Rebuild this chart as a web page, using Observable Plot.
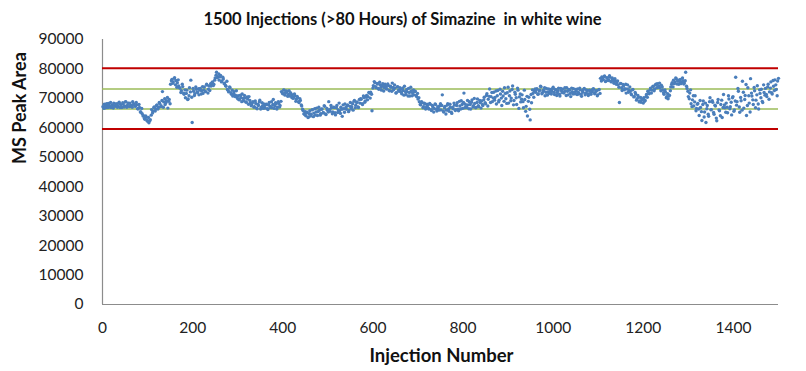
<!DOCTYPE html>
<html><head><meta charset="utf-8">
<script src="https://cdn.jsdelivr.net/npm/d3@7"></script>
<script src="https://cdn.jsdelivr.net/npm/@observablehq/plot@0.6"></script>
<style>
html,body{margin:0;padding:0;background:#fff;}
svg{font-family:Lato,"Open Sans",sans-serif;}
</style></head>
<body><div id="chart"></div>
<script>
// MS peak area (thousands), read at injections 1,4,7,... (series A) and 3,6,9,... (series B)
const peakAreaA = [
67.2,68.0,66.8,67.6,68.3,67.1,66.9,67.8,68.4,67.3,
68.1,67.5,68.7,67.9,66.9,68.2,67.4,68.8,67.6,68.3,
68.4,67.6,68.9,68.1,67.3,67.8,66.5,66.9,65.4,64.8,
64.1,62.9,63.6,62.2,61.7,62.8,66.2,65.6,67.1,66.4,
67.8,66.9,68.3,67.5,72.3,68.8,67.9,69.2,66.7,69.6,
74.8,76.4,75.6,77.0,76.1,75.3,74.2,73.5,72.6,74.0,
71.4,70.2,72.8,69.8,73.6,76.2,61.8,72.4,71.6,73.1,
72.0,71.2,73.4,72.6,71.7,73.9,72.3,74.5,73.1,72.7,
74.2,75.6,74.8,76.9,78.9,77.4,76.2,77.8,75.9,76.6,
75.2,74.1,73.0,72.2,73.6,71.4,70.8,72.3,71.1,70.4,
70.9,69.6,70.3,71.5,69.2,70.1,68.7,69.8,70.6,68.4,
67.8,68.9,67.2,68.3,66.5,67.6,69.4,66.9,67.4,68.1,
66.7,67.9,66.2,68.6,67.3,66.8,69.6,67.5,68.2,67.0,
68.3,67.6,72.3,71.6,72.8,71.9,72.2,71.3,70.8,71.7,
71.2,70.4,70.9,69.7,70.2,68.6,69.3,67.4,65.9,64.6,
64.1,65.3,63.7,65.8,64.6,66.2,65.0,64.3,66.7,65.5,
65.9,64.8,66.4,65.2,67.3,64.5,66.0,68.9,65.6,66.8,
65.4,66.9,64.4,67.6,66.1,65.7,67.0,63.9,66.5,68.1,
66.3,67.8,65.9,68.6,67.2,66.0,69.3,67.7,68.8,66.9,
68.4,69.7,67.9,70.3,69.1,71.0,70.6,71.8,72.1,65.8,
74.3,75.4,73.6,74.9,73.1,74.6,72.8,75.0,73.7,74.1,
73.3,74.4,72.6,73.8,75.2,72.9,73.5,71.9,74.0,72.4,
73.0,71.6,72.7,74.1,71.3,72.2,73.4,70.8,72.5,71.9,
71.2,72.4,70.6,69.8,68.9,67.8,68.6,67.2,68.1,66.9,
67.5,66.4,68.0,65.9,67.1,66.6,67.9,65.7,66.8,67.4,
66.1,71.2,65.4,67.3,66.0,68.2,65.6,67.0,64.9,66.5,
67.7,66.2,68.5,65.8,67.4,69.2,66.6,71.8,68.0,66.9,
67.8,68.9,66.4,69.5,67.5,68.3,66.9,69.8,67.2,68.6,
69.1,67.6,70.4,68.2,71.6,69.7,73.2,70.6,68.9,72.1,
70.3,68.1,72.7,69.4,71.5,67.6,70.8,73.6,69.9,71.9,
68.4,72.5,70.1,74.2,69.3,71.4,67.9,72.8,70.5,68.8,
71.2,66.8,69.6,67.3,64.0,70.4,62.7,68.5,71.7,72.6,
72.1,73.3,71.5,72.8,73.9,71.9,72.6,70.9,73.4,72.2,
71.7,73.0,72.4,73.8,71.3,72.9,72.0,73.5,70.8,72.7,
73.1,71.8,72.5,73.6,71.2,72.8,70.6,72.3,73.3,71.6,
72.4,73.2,71.5,72.9,70.7,72.1,73.4,71.8,72.6,71.0,
72.7,71.4,72.2,73.1,71.9,72.5,71.2,73.0,76.8,77.3,
76.4,77.6,75.9,76.9,76.2,77.2,75.6,76.5,75.1,76.0,
75.4,74.6,68.6,75.1,72.7,74.2,73.3,71.8,74.6,72.9,
72.4,71.2,73.0,70.6,71.5,69.8,70.4,69.1,68.7,69.6,
70.2,69.4,71.3,72.4,71.6,73.5,72.8,74.1,73.2,74.8,
75.0,74.2,73.6,74.5,72.9,71.4,72.2,70.6,69.9,71.1,
73.9,75.3,76.2,75.6,76.7,75.9,74.8,76.4,75.5,76.0,
75.2,78.9,73.4,70.6,71.8,68.2,69.5,67.4,70.9,66.6,
68.3,64.2,66.9,62.5,69.1,65.4,61.8,67.6,63.9,70.2,
66.2,68.7,64.6,67.4,62.4,69.6,65.8,67.9,63.5,71.3,
66.8,68.4,65.1,69.8,67.2,64.4,70.6,66.1,77.2,68.9,
72.4,65.3,69.2,75.8,66.7,71.0,64.2,73.6,68.4,76.7,
70.8,67.9,72.6,69.4,74.3,66.4,71.7,73.1,68.6,72.0,
73.4,70.6,74.8,72.2,75.6,71.5,74.1,76.3,73.0,75.9
];
const peakAreaB = [
66.6,67.4,68.2,66.9,67.7,68.6,67.4,66.7,67.5,68.1,
67.0,68.4,66.9,67.3,68.5,67.1,68.9,67.0,68.4,67.2,
67.5,67.0,68.0,67.4,68.6,66.5,67.9,65.4,66.6,64.0,
63.2,64.0,62.5,63.5,62.4,64.3,65.0,66.9,65.7,67.6,
66.4,68.6,67.2,69.3,67.0,69.9,68.6,70.3,69.0,68.2,
76.0,75.1,76.8,74.6,73.8,76.3,73.6,72.0,74.8,71.8,
72.9,71.7,69.6,70.9,72.2,70.4,73.4,71.0,73.9,72.2,
73.3,72.8,71.5,74.0,72.9,72.3,74.8,71.8,74.2,75.0,
75.3,74.4,76.2,77.9,77.0,78.3,77.3,75.6,77.2,75.0,
74.4,75.8,72.6,73.9,71.9,72.8,71.6,70.6,72.6,69.9,
69.5,71.1,68.9,70.0,71.0,68.8,70.5,68.0,69.3,67.5,
68.6,67.0,69.1,66.7,67.9,68.8,66.4,68.5,66.6,67.6,
68.0,66.5,67.7,66.9,68.9,67.9,66.6,68.5,66.4,68.9,
67.1,69.0,71.8,72.9,71.1,72.5,70.7,72.6,71.9,70.3,
70.0,71.5,69.0,70.7,68.9,69.9,67.8,66.3,64.8,65.5,
65.0,63.5,64.8,64.0,66.1,63.8,66.5,65.4,64.2,67.0,
64.3,66.3,65.0,67.5,64.7,66.6,65.4,66.2,67.6,64.8,
67.0,65.1,66.8,65.2,68.4,64.9,66.3,67.8,65.3,66.9,
67.5,65.5,67.3,66.6,68.2,69.0,66.8,68.6,67.1,69.6,
69.9,68.2,70.8,68.7,70.4,69.5,72.0,70.1,71.4,73.5,
75.7,74.0,75.1,73.4,75.5,73.8,74.4,72.5,74.8,73.2,
74.9,72.7,74.1,72.4,73.7,74.6,71.8,73.9,72.8,73.6,
72.1,73.5,71.1,72.3,73.0,70.8,72.0,73.8,70.9,72.9,
72.3,71.0,71.7,70.2,67.9,68.9,66.8,68.4,66.4,68.0,
66.7,68.3,66.2,67.6,65.4,68.1,66.3,67.2,66.0,68.2,
67.6,65.7,66.8,64.7,67.7,66.4,68.0,65.3,66.9,68.4,
65.9,67.6,66.3,69.0,66.4,67.9,68.6,66.8,67.2,69.3,
66.5,67.9,68.7,67.1,70.0,66.8,68.6,67.5,69.3,66.7,
67.9,69.5,68.5,71.0,67.4,70.7,68.6,72.0,70.1,69.4,
72.5,70.9,68.8,73.1,70.1,72.4,69.0,71.7,68.3,73.8,
70.9,69.2,73.0,67.8,72.1,70.2,73.5,66.6,71.5,69.7,
68.9,72.8,65.6,70.7,69.0,66.3,71.3,72.9,70.4,73.2,
73.0,71.4,72.5,74.1,71.6,72.8,73.6,72.1,71.1,73.2,
72.3,71.5,73.4,72.1,73.0,71.0,72.6,71.4,73.4,72.0,
72.1,73.6,71.0,72.4,73.0,71.7,73.5,71.5,72.0,73.0,
71.3,72.0,73.5,71.4,72.6,73.1,71.2,72.9,71.6,72.8,
71.8,72.9,73.3,71.6,72.6,70.9,72.9,71.7,75.9,76.4,
77.4,75.7,77.0,76.1,77.7,75.8,76.9,75.9,76.7,74.8,
75.9,73.8,75.0,73.6,74.7,72.9,74.8,73.2,72.1,73.9,
71.5,72.9,70.5,72.0,69.4,71.0,68.8,70.3,69.5,68.4,
69.0,70.6,70.4,71.9,72.9,71.8,74.0,72.6,74.6,73.6,
73.8,75.2,72.6,73.9,71.9,72.9,70.2,71.6,70.8,72.6,
74.8,73.9,75.0,76.9,74.9,76.2,75.6,75.0,76.9,74.9,
76.0,74.1,72.4,69.9,72.9,67.2,70.9,68.8,65.8,68.0,
66.4,69.3,65.5,67.9,63.7,68.4,66.5,64.6,68.9,66.1,
69.2,65.2,67.7,63.3,68.6,66.1,64.1,69.4,66.9,67.8,
65.3,67.0,70.9,66.5,68.7,70.2,65.6,69.1,67.7,73.4,
67.1,70.3,66.0,72.1,69.6,74.7,67.6,70.9,65.4,71.8,
69.5,73.7,66.8,71.2,68.1,72.9,70.2,69.0,74.6,71.1,
71.3,73.9,69.7,73.5,71.9,76.1,72.7,74.6,70.9,76.8
];
const injectionStep = 3;
const controlLimits = [80200, 59600];   // red
const warningLimits = [73200, 66400];   // green
const xTicks = [0,200,400,600,800,1000,1200,1400];
const yTicks = [0,10000,20000,30000,40000,50000,60000,70000,80000,90000];
const title = "1500 Injections (>80 Hours) of Simazine  in white wine";
const xLabel = "Injection Number";
const yLabel = "MS Peak Area";

const pts = [
  ...peakAreaA.map((v,i)=>({inj: i*injectionStep + 1, area: v*1000})),
  ...peakAreaB.map((v,i)=>({inj: i*injectionStep + 3, area: v*1000}))
];

const chart = Plot.plot({
  width: 806, height: 371,
  marginLeft: 102, marginRight: 28, marginTop: 39, marginBottom: 67,
  style: {fontFamily: "Lato, 'Open Sans', sans-serif", background: "#fff"},
  x: {domain: [0,1500]},
  y: {domain: [0,90000]},
  marks: [
    Plot.axisX({ticks: xTicks, tickSize: 0, tickPadding: 17, fontSize: 15.5, label: null, tickFormat: d => String(d), fill:"#222"}),
    Plot.axisY({ticks: yTicks, tickSize: 0, tickPadding: 19, fontSize: 15.5, label: null, tickFormat: d => String(d), fill:"#222"}),
    Plot.ruleX([0], {stroke: "#8c8c8c", strokeWidth: 1.2}),
    Plot.ruleY([0], {stroke: "#8c8c8c", strokeWidth: 1.2}),
    Plot.ruleY(controlLimits, {stroke: "#c00000", strokeWidth: 2}),
    Plot.ruleY(warningLimits, {stroke: "#9bbb59", strokeWidth: 1.5}),
    Plot.dot(pts, {x: "inj", y: "area", r: 1.7, fill: "#4a7ebb", stroke: "none"}),
    Plot.text([title], {frameAnchor: "top", dx: -38, dy: -26, fontSize: 16.5, fontWeight: "bold", fill: "#111"}),
    Plot.text([xLabel], {frameAnchor: "bottom", dx: 1, dy: 57, fontSize: 18.5, fontWeight: "bold", fill: "#111"}),
    Plot.text([yLabel], {frameAnchor: "left", dx: -82, dy: -8, rotate: -90, fontSize: 18, fontWeight: "bold", fill: "#111"})
  ]
});
document.getElementById("chart").appendChild(chart);
</script></body></html>
